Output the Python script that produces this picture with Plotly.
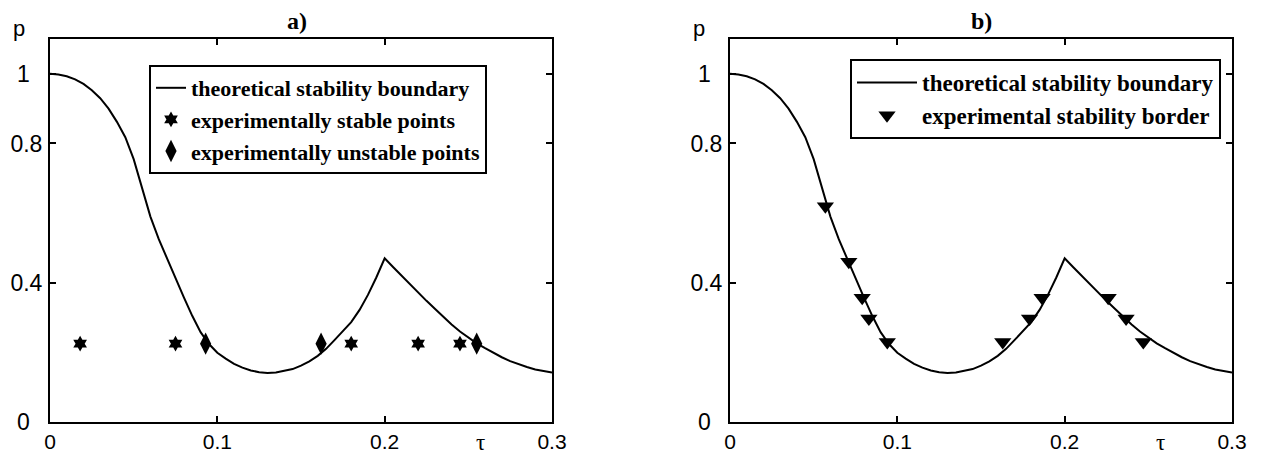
import plotly.graph_objects as go

# ---------------- data ----------------
tau_curve = [0, 0.005, 0.01, 0.015, 0.02, 0.025, 0.03, 0.035, 0.04, 0.045, 0.05,
             0.055, 0.06, 0.065, 0.07, 0.075, 0.08, 0.085, 0.09, 0.095, 0.1,
             0.105, 0.11, 0.115, 0.12, 0.125, 0.13, 0.135, 0.14, 0.145, 0.15,
             0.155, 0.16, 0.165, 0.17, 0.175, 0.18, 0.185, 0.19, 0.195, 0.2,
             0.205, 0.21, 0.215, 0.22, 0.225, 0.23, 0.235, 0.24, 0.245, 0.25,
             0.255, 0.26, 0.265, 0.27, 0.275, 0.28, 0.285, 0.29, 0.295, 0.3]
p_curve = [1.000, 0.998, 0.993, 0.984, 0.971, 0.953, 0.930, 0.900, 0.862, 0.818, 0.755,
           0.670, 0.590, 0.525, 0.468, 0.413, 0.358, 0.305, 0.258, 0.224, 0.199,
           0.182, 0.167, 0.156, 0.148, 0.143, 0.141, 0.142, 0.146, 0.152, 0.162,
           0.174, 0.190, 0.210, 0.235, 0.262, 0.287, 0.322, 0.365, 0.415, 0.470,
           0.445, 0.420, 0.395, 0.370, 0.348, 0.325, 0.302, 0.280, 0.260, 0.242,
           0.226, 0.212, 0.198, 0.186, 0.175, 0.166, 0.158, 0.151, 0.146, 0.142]

stable_tau = [0.018, 0.075, 0.180, 0.220, 0.245]
stable_p = [0.225, 0.225, 0.225, 0.225, 0.225]
unstable_tau = [0.093, 0.162, 0.255]
unstable_p = [0.225, 0.225, 0.225]

border_tau = [0.057, 0.071, 0.079, 0.083, 0.094, 0.163, 0.179, 0.1865, 0.226, 0.2367, 0.247]
border_p = [0.620, 0.460, 0.357, 0.297, 0.230, 0.230, 0.297, 0.357, 0.357, 0.297, 0.230]

x_ticks = [0, 0.1, 0.2, 0.3]
x_ticktext = ["0", "0.1", "0.2", "0.3"]
y_ticks = [0, 0.4, 0.8, 1]
y_ticktext = ["", "0.4", "0.8", ""]
y_edge_labels = [(0, "0"), (1, "1")]

name_theory = "theoretical stability boundary"
name_stable = "experimentally stable points"
name_unstable = "experimentally unstable points"
name_border = "experimental stability border"

# ---------------- figure ----------------
W, H = 1261, 455
SANS = "Liberation Sans, Arial, sans-serif"
SERIF = "Liberation Serif, Times New Roman, serif"

fig = go.Figure()

fig.add_trace(go.Scatter(x=tau_curve, y=p_curve, mode="lines", name=name_theory,
                         line=dict(color="black", width=2), xaxis="x", yaxis="y",
                         legend="legend", legendgroup="a1"))
fig.add_trace(go.Scatter(x=stable_tau, y=stable_p, mode="markers", name=name_stable,
                         marker=dict(symbol="hexagram", size=12, color="black",
                                     line=dict(width=0)),
                         xaxis="x", yaxis="y", legend="legend", legendgroup="a2"))
fig.add_trace(go.Scatter(x=unstable_tau, y=unstable_p, mode="markers", name=name_unstable,
                         marker=dict(symbol="diamond-tall", size=16, color="black",
                                     line=dict(width=0)),
                         xaxis="x", yaxis="y", legend="legend", legendgroup="a3"))

fig.add_trace(go.Scatter(x=tau_curve, y=p_curve, mode="lines", name=name_theory,
                         line=dict(color="black", width=2), xaxis="x2", yaxis="y2",
                         legend="legend2", legendgroup="b1"))
fig.add_trace(go.Scatter(x=border_tau, y=border_p, mode="markers", name=name_border,
                         marker=dict(symbol="triangle-down", size=15, color="black",
                                     line=dict(width=0)),
                         xaxis="x2", yaxis="y2", legend="legend2", legendgroup="b2"))


def px_x(v):
    return v / W


def px_y(v):
    return (H - v) / H


axis_common = dict(showline=True, linecolor="black", linewidth=2, mirror="ticks",
                   ticks="inside", ticklen=6, tickwidth=2, tickcolor="black",
                   showgrid=False, zeroline=False, automargin=False)
xfont = dict(family=SANS, size=21, color="black")
yfont = dict(family=SANS, size=23, color="black")

ydom = [px_y(422), px_y(39)]
fig.update_layout(
    width=W, height=H,
    margin=dict(l=0, r=0, t=0, b=0, autoexpand=False),
    paper_bgcolor="white", plot_bgcolor="white",
    xaxis=dict(domain=[px_x(50), px_x(552)], range=[0, 0.3], tickvals=x_ticks,
               ticktext=x_ticktext, anchor="y", ticklabelstandoff=0, tickfont=xfont,
               **axis_common),
    yaxis=dict(domain=ydom, range=[0, 1.1], tickvals=y_ticks, ticktext=y_ticktext,
               anchor="x", ticklabelstandoff=1, tickfont=yfont, **axis_common),
    xaxis2=dict(domain=[px_x(730), px_x(1232)], range=[0, 0.3], tickvals=x_ticks,
                ticktext=x_ticktext, anchor="y2", ticklabelstandoff=0, tickfont=xfont,
                **axis_common),
    yaxis2=dict(domain=ydom, range=[0, 1.1], tickvals=y_ticks, ticktext=y_ticktext,
                anchor="x2", ticklabelstandoff=1, tickfont=yfont, **axis_common),
    legend=dict(x=px_x(149), y=px_y(65), xanchor="left", yanchor="top",
                bordercolor="black", borderwidth=2, bgcolor="white",
                font=dict(family=SERIF, size=22, color="black", weight="bold"),
                traceorder="grouped", tracegroupgap=0, itemwidth=30),
    legend2=dict(x=px_x(850), y=px_y(59), xanchor="left", yanchor="top",
                 bordercolor="black", borderwidth=2, bgcolor="white",
                 font=dict(family=SERIF, size=23, color="black", weight="bold"),
                 traceorder="grouped", tracegroupgap=0, itemwidth=60),
    showlegend=True,
)

annotations = []
# panel titles
annotations.append(dict(text="a)", x=px_x(297), y=px_y(21), xref="paper", yref="paper",
                        showarrow=False, xanchor="center", yanchor="middle",
                        font=dict(family=SERIF, size=24, color="black", weight="bold")))
annotations.append(dict(text="b)", x=px_x(981), y=px_y(21), xref="paper", yref="paper",
                        showarrow=False, xanchor="center", yanchor="middle",
                        font=dict(family=SERIF, size=24, color="black", weight="bold")))
# axis letters
for left, xr in [(50, "x"), (730, "x2")]:
    annotations.append(dict(text="p", x=px_x(left - 31), y=px_y(29), xref="paper",
                            yref="paper", showarrow=False, xanchor="center",
                            yanchor="middle",
                            font=dict(family=SANS, size=22, color="black")))
    annotations.append(dict(text="τ", x=0.257, y=px_y(442), xref=xr, yref="paper",
                            showarrow=False, xanchor="center", yanchor="middle",
                            font=dict(family=SERIF, size=23, color="black")))
# "0" and "1" y labels (placed further out than the others, as in the original)
for left, yr in [(50, "y"), (730, "y2")]:
    for val, txt in y_edge_labels:
        annotations.append(dict(text=txt, x=px_x(left - 26), y=val, xref="paper", yref=yr,
                                showarrow=False, xanchor="center", yanchor="middle",
                                font=dict(family=SANS, size=23, color="black")))
fig.update_layout(annotations=annotations)

fig.write_html(
    "out.html",
    config={"displayModeBar": False},
    post_script="document.body.style.margin='0px';document.body.style.overflow='hidden';",
)
